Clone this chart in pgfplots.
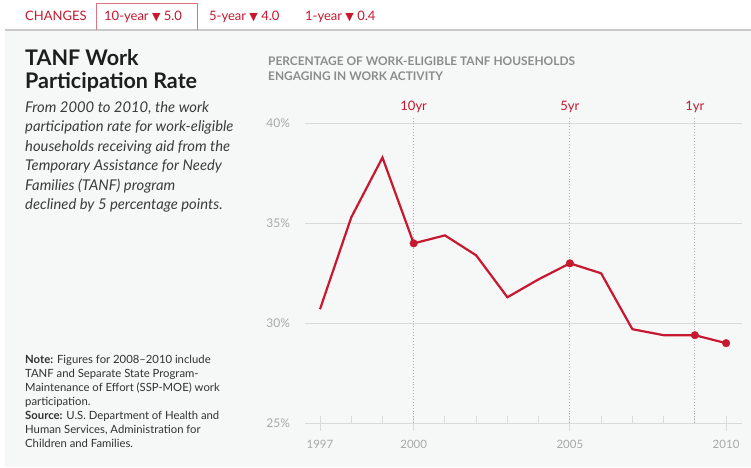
\documentclass[border=0pt]{standalone}
\usepackage{pgfplots}
\pgfplotsset{compat=1.18}
\usepackage{fontspec}
\setmainfont{Lato}
\newfontfamily\symfont{DejaVu Sans}
\definecolor{tred}{RGB}{198,24,46}
\definecolor{bgc}{RGB}{246,247,247}
\definecolor{gridc}{RGB}{218,218,218}
\definecolor{tickc}{RGB}{168,168,168}
\definecolor{headc}{RGB}{140,140,140}
\definecolor{titlec}{RGB}{30,30,30}
\definecolor{subc}{RGB}{60,60,60}
\definecolor{notec}{RGB}{50,50,50}
\newcommand{\fs}[2]{\fontsize{#1}{#2}\selectfont}
\newcommand{\down}{{\symfont\fs{11}{12}▼}}
\begin{document}
\begin{tikzpicture}
\begin{scope}[x=1pt,y=1pt]
\useasboundingbox (0,0) rectangle (751,467);
\fill[white] (0,0) rectangle (751,467);
\fill[bgc] (5,0) rectangle (751,437);
\draw[gridc!80!gray, line width=1.2pt] (5,437) -- (751,437);
% changes strip
\draw[tred!60, line width=0.8pt] (96,437) -- (96,464) -- (197,464) -- (197,437);
\node[anchor=base west, text=tred, inner sep=0, font=\fs{13}{15}] at (25,446) {CHANGES};
\node[anchor=base west, text=tred, inner sep=0, font=\fs{13}{15}] at (104,446) {10-year \down\ 5.0};
\node[anchor=base west, text=tred, inner sep=0, font=\fs{13}{15}] at (209,446) {5-year \down\ 4.0};
\node[anchor=base west, text=tred, inner sep=0, font=\fs{13}{15}] at (305,446) {1-year \down\ 0.4};
% title
\node[anchor=base west, text=titlec, inner sep=0, font=\fs{21.5}{24}\bfseries] at (25,401) {TANF Work};
\node[anchor=base west, text=titlec, inner sep=0, font=\fs{21.5}{24}\bfseries] at (25,379) {Participation Rate};
% subtitle
\foreach \t [count=\i] in {From 2000 to 2010{,} the work, participation rate for work-eligible, households receiving aid from the, Temporary Assistance for Needy, Families (TANF) program, declined by 5 percentage points.}
  \node[anchor=base west, text=subc, inner sep=0, font=\fs{14.8}{16}\itshape] at (25,{355-(\i-1)*19.5}) {\t};
% note
\foreach \t [count=\i] in {{\bfseries Note:} Figures for 2008--2010 include, TANF and Separate State Program-, Maintenance of Effort (SSP-MOE) work, participation., {\bfseries Source:} U.S. Department of Health and, Human Services{,} Administration for, Children and Families.}
  \node[anchor=base west, text=notec, inner sep=0, font=\fs{11.3}{13}] at (25,{104-(\i-1)*14}) {\t};
% chart header
\node[anchor=base west, text=headc, inner sep=0, font=\fs{11.9}{14}\bfseries] at (268,401) {PERCENTAGE OF WORK-ELIGIBLE TANF HOUSEHOLDS};
\node[anchor=base west, text=headc, inner sep=0, font=\fs{11.9}{14}\bfseries] at (268,387) {ENGAGING IN WORK ACTIVITY};
\end{scope}
\begin{axis}[
  at={(305pt,44pt)}, anchor=south west,
  scale only axis, width=437pt, height=299.4pt,
  xmin=1996.52, xmax=2010.51, ymin=25, ymax=40,
  clip=false,
  axis line style={draw=none},
  /pgf/number format/assume math mode=true,
  /pgf/number format/1000 sep={},
  ytick={25,30,35,40},
  yticklabel={\pgfmathprintnumber{\tick}\%},
  ymajorgrids,
  grid style={color=gridc, line width=0.9pt},
  ytick style={draw=none},
  yticklabel style={text=tickc, font=\fs{12}{14}, xshift=-4pt},
  xtick={1997,2000,2005,2010},
  xtick pos=bottom,
  tick align=center,
  major tick length=15pt,
  xtick style={color=gridc, line width=0.9pt},
  xticklabel style={text=tickc, font=\fs{11.5}{13}, yshift=-6pt},
  extra x ticks={1998,1999,2001,2002,2003,2004,2006,2007,2008,2009},
  extra x tick labels={},
  extra x tick style={tick align=inside, major tick length=7pt},
]
\draw[headc!70, dotted, line width=0.9pt] (axis cs:2000,25) -- (axis cs:2000,40.37);
\draw[headc!70, dotted, line width=0.9pt] (axis cs:2005,25) -- (axis cs:2005,40.37);
\draw[headc!70, dotted, line width=0.9pt] (axis cs:2009,25) -- (axis cs:2009,40.37);
\node[text=tred, font=\fs{13}{15}] at (axis cs:2000,40.82) {10yr};
\node[text=tred, font=\fs{13}{15}] at (axis cs:2005,40.82) {5yr};
\node[text=tred, font=\fs{13}{15}] at (axis cs:2009,40.82) {1yr};
\addplot[tred, line width=2.2pt, mark=none] coordinates {
(1997,30.7) (1998,35.3) (1999,38.3) (2000,34.0) (2001,34.4) (2002,33.4) (2003,31.3)
(2004,32.2) (2005,33.0) (2006,32.5) (2007,29.7) (2008,29.4) (2009,29.4) (2010,29.0)};
\addplot[tred, only marks, mark=*, mark size=3.8pt] coordinates {
(2000,34.0) (2005,33.0) (2009,29.4) (2010,29.0)};
\end{axis}
\end{tikzpicture}
\end{document}
